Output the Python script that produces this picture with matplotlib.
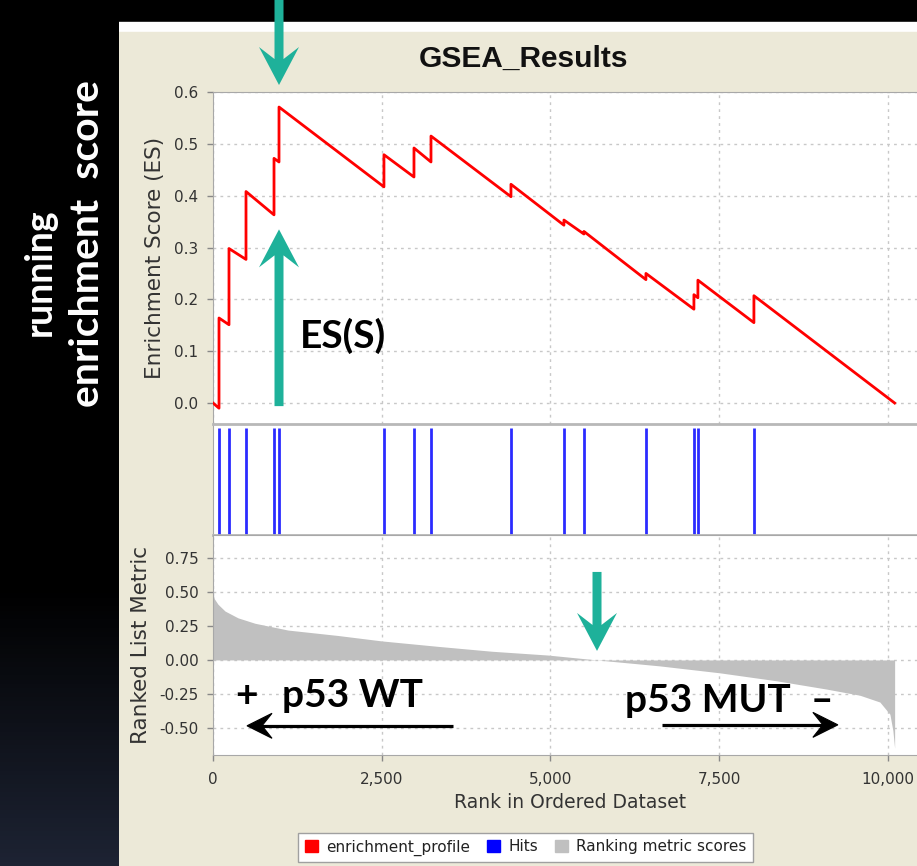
"""GSEA running enrichment score figure with annotations."""

import numpy as np
import matplotlib
matplotlib.use("Agg")
import matplotlib.pyplot as plt
from matplotlib.patches import Rectangle, Polygon, Patch
from matplotlib.ticker import FixedLocator, FuncFormatter

W, H = 917, 866

# gene set hits (rank in ordered list) and running ES just before / after each hit
hit_ranks = [89, 237, 489, 904, 978, 2533, 2978, 3230, 4415, 5200, 5496, 6415, 7126, 7185, 8015]
es_before_hit = [-0.010, 0.151, 0.277, 0.363, 0.465, 0.417, 0.436, 0.465, 0.398,
                 0.343, 0.326, 0.238, 0.181, 0.203, 0.155]
es_after_hit = [0.164, 0.298, 0.408, 0.472, 0.571, 0.479, 0.492, 0.515, 0.422,
                0.353, 0.331, 0.250, 0.209, 0.237, 0.207]
n_genes = 10100

# ranked list metric (sampled along the ordered list)
metric_ranks = [0, 20, 74, 178, 370, 622, 1111, 1852, 2500, 3333, 4130, 4963, 5690,
                6622, 7511, 8356, 9096, 9585, 9881, 10030, 10074, 10100]
metric_values = [0.49, 0.45, 0.41, 0.36, 0.31, 0.27, 0.22, 0.18, 0.14, 0.10, 0.064, 0.036, 0.0,
                 -0.044, -0.095, -0.154, -0.215, -0.26, -0.31, -0.40, -0.52, -0.65]

es_ticks = [0.0, 0.1, 0.2, 0.3, 0.4, 0.5, 0.6]
metric_ticks = [-0.50, -0.25, 0.00, 0.25, 0.50, 0.75]
rank_ticks = [0, 2500, 5000, 7500, 10000]

BEIGE = "#ece9d8"
TEAL = "#1eb19a"
GRID = "#c8c8c8"
SPINE = "#a8a8a8"
TXT = "#333333"
BIG = ["Lato", "DejaVu Sans"]

fig = plt.figure(figsize=(W / 100, H / 100), dpi=100)
fig.patch.set_facecolor("black")

# left strip gradient (dark navy towards the bottom)
bg = fig.add_axes([0, 0, 118 / W, 1], zorder=0)
grad = np.linspace(0, 1, 200)
grad = np.clip((grad - 0.68) / 0.32, 0, 1)[:, None]
bg.imshow(grad, aspect="auto", extent=(0, 1, 1, 0),
          cmap=matplotlib.colors.LinearSegmentedColormap.from_list("n", ["#000000", "#1d2333"]))
bg.axis("off")

# GSEA window panel
fig.add_artist(Rectangle((118 / W, 0), 1, 1 - 22 / H, transform=fig.transFigure,
                         color="white", zorder=0))
fig.add_artist(Rectangle((118 / W, 0), 1, 1 - 32 / H, transform=fig.transFigure,
                         color=BEIGE, zorder=0))


def px_axes(left, top, right, bottom):
    return fig.add_axes([left / W, 1 - bottom / H, (right - left) / W, (bottom - top) / H])


ax1 = px_axes(213, 92, 925, 424)
ax2 = px_axes(213, 424, 925, 535)
ax3 = px_axes(213, 535, 925, 755)

for ax in (ax1, ax2, ax3):
    ax.set_xlim(0, 10550)
    ax.set_facecolor("white")
    for s in ax.spines.values():
        s.set_color(SPINE)
    ax.spines["right"].set_visible(False)
    ax.tick_params(colors="#888888", labelcolor=TXT, labelsize=11, length=4, width=1)
    ax.xaxis.set_major_locator(FixedLocator(rank_ticks))

# running enrichment score
es_x, es_y = [0], [0.0]
for r, b, a in zip(hit_ranks, es_before_hit, es_after_hit):
    es_x += [r, r]
    es_y += [b, a]
es_x.append(n_genes)
es_y.append(0.0)
ax1.plot(es_x, es_y, color="red", lw=2, zorder=3)
ax1.set_ylim(-0.0405, 0.6)
ax1.yaxis.set_major_locator(FixedLocator(es_ticks))
ax1.yaxis.set_major_formatter(FuncFormatter(lambda v, p: f"{v:.1f}"))
ax1.tick_params(axis="y", pad=6.5)
ax1.tick_params(axis="x", length=0, labelbottom=False)
ax1.grid(True, color=GRID, ls=(0, (2, 3)), lw=1)
ax1.set_ylabel("Enrichment Score (ES)", fontsize=15.5, color=TXT, va="center")
ax1.yaxis.set_label_coords((155 - 213) / 712, 0.5)

# hits
ax2.vlines(hit_ranks, 0, 0.96, color="#2b2bff", lw=2)
ax2.set_ylim(0, 1)
ax2.set_yticks([])
ax2.tick_params(axis="x", length=0, labelbottom=False)
for side in ("top", "bottom"):
    ax2.spines[side].set_linewidth(2)
    ax2.spines[side].set_color("#b8b8b8")

# ranked list metric
ax3.fill_between(metric_ranks, metric_values, 0, color="#c0c0c0", lw=0, zorder=2)
ax3.set_ylim(-0.70, 0.92)
ax3.yaxis.set_major_locator(FixedLocator(metric_ticks))
ax3.yaxis.set_major_formatter(FuncFormatter(lambda v, p: f"{v:.2f}"))
ax3.xaxis.set_major_formatter(FuncFormatter(lambda v, p: f"{v:,.0f}"))
ax3.tick_params(axis="y", pad=6.5)
ax3.tick_params(axis="x", pad=8)
ax3.grid(True, color=GRID, ls=(0, (2, 3)), lw=1, zorder=1)
ax3.set_axisbelow(True)
ax3.set_ylabel("Ranked List Metric", fontsize=15.5, color=TXT, va="center")
ax3.yaxis.set_label_coords((141 - 213) / 712, 0.5)
ax3.set_xlabel("Rank in Ordered Dataset", fontsize=13.5, color=TXT, va="center")
ax3.xaxis.set_label_coords((570 - 213) / 712, (755 - 802) / 220)

fig.text(524 / W, 1 - 59 / H, "GSEA_Results", ha="center", va="center",
         fontsize=21.5, fontweight="bold", color="#111111", family="Liberation Sans")

fig.legend(handles=[Patch(color="red"), Patch(color="blue"), Patch(color="#c0c0c0")],
           labels=["enrichment_profile", "Hits", "Ranking metric scores"],
           loc="center", bbox_to_anchor=(525.5 / W, 1 - 847.5 / H), ncol=3,
           frameon=True, fancybox=False, edgecolor="#a0a0a0", fontsize=11,
           labelcolor="#222222", handlelength=0.9, handleheight=0.9, handletextpad=0.5,
           columnspacing=1.1, borderpad=0.45, framealpha=1)

# overlay for the annotation arrows (pixel coordinates, y downwards)
ov = fig.add_axes([0, 0, 1, 1], zorder=10)
ov.set_xlim(0, W)
ov.set_ylim(H, 0)
ov.axis("off")


def to_px(ax, x, y):
    dx, dy = ax.transData.transform((x, y))
    return dx, H - dy


def teal_arrow(x, tail_y, tip_y):
    back = -1 if tip_y > tail_y else 1
    pts = [(x, tip_y), (x + 20, tip_y + back * 38), (x + 4.5, tip_y + back * 26),
           (x + 4.5, tail_y), (x - 4.5, tail_y), (x - 4.5, tip_y + back * 26),
           (x - 20, tip_y + back * 38)]
    ov.add_patch(Polygon(pts, closed=True, color=TEAL, lw=0))


def black_arrow(ax, x_tail, x_tip, y):
    tx, ty = to_px(ax, x_tail, y)
    hx, hy = to_px(ax, x_tip, y)
    d = 1 if hx > tx else -1
    ov.plot([tx, hx - d * 10], [ty, hy], color="black", lw=2.3, solid_capstyle="butt")
    head = [(hx, hy), (hx - d * 25, hy - 12.5), (hx - d * 15, hy), (hx - d * 25, hy + 12.5)]
    ov.add_patch(Polygon(head, closed=True, color="black", lw=0.8))


peak = int(np.argmax(es_after_hit))
px, py = to_px(ax1, hit_ranks[peak], es_after_hit[peak])
teal_arrow(px, 0, py - 22)
_, base_y = to_px(ax1, hit_ranks[peak], -0.006)
_, up_tip = to_px(ax1, hit_ranks[peak], 0.335)
teal_arrow(px, base_y, up_tip)

zero_rank = metric_ranks[metric_values.index(0.0)]
zx, zy = to_px(ax3, zero_rank, 0.0)
teal_arrow(zx, zy - 88, zy - 9)

ax1.text(1289, 0.106, "ES(S)", fontsize=28, fontweight="bold", family=BIG,
         color="black", zorder=5)

# p53 annotations in the metric panel
ax3.text(494, -0.345, "+", fontsize=28, fontweight="bold", family=BIG, ha="center", zorder=5)
ax3.text(1022, -0.345, "p53 WT", fontsize=28, fontweight="bold", family=BIG, zorder=5)
ax3.text(6104, -0.38, "p53 MUT", fontsize=28, fontweight="bold", family=BIG, zorder=5)
ax3.text(9022, -0.38, "\u2013", fontsize=28, fontweight="bold", family=BIG, ha="center", zorder=5)
black_arrow(ax3, 3556, 504, -0.485)
black_arrow(ax3, 6652, 9259, -0.478)

# side label
fig.text(40 / W, 1 - 272 / H, "running", rotation=90, ha="center", va="center",
         fontsize=27, fontweight="bold", family=BIG, color="white")
fig.text(88 / W, 1 - 244 / H, "enrichment  score", rotation=90, ha="center", va="center",
         fontsize=29.5, fontweight="bold", family=BIG, color="white")

fig.savefig("out.png", dpi=100, facecolor=fig.get_facecolor())
